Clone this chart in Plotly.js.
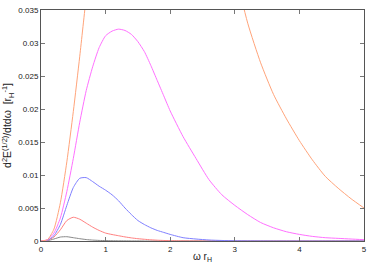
<!DOCTYPE html>
<html>
<head>
<meta charset="utf-8">
<script src="https://cdn.plot.ly/plotly-3.0.1.min.js"></script>
<style>html,body{margin:0;padding:0;background:#fff;}#plot{width:376px;height:263px;}</style>
</head>
<body>
<div id="plot"></div>
<script>
var omega = [0,0.1,0.2,0.3,0.4,0.5,0.6,0.7,0.8,0.9,1.0,1.1,1.2,1.3,1.4,1.5,1.6,1.7,1.8,1.9,2.0,2.2,2.4,2.6,2.8,3.0,3.2,3.4,3.6,3.8,4.0,4.2,4.4,4.6,4.8,5.0];
var seriesGray = [0,0.00005,0.0003,0.0006,0.00065,0.0005,0.00035,0.00022,0.00014,0.00009,0.00006,0.00004,0.00003,0.00002,0.00001,0.00001,0,0,0,0,0,0,0,0,0,0,0,0,0,0,0,0,0,0,0,0];
var seriesRed = [0,0.0001,0.0006,0.0017,0.0031,0.0036,0.0033,0.0027,0.0021,0.0016,0.0012,0.00098,0.0008,0.00062,0.00047,0.00035,0.00026,0.00018,0.00012,0.00008,0.00005,0.00002,0.00001,0,0,0,0,0,0,0,0,0,0,0,0,0];
var seriesBlue = [0,0.0001,0.0008,0.0025,0.0054,0.0081,0.0095,0.0096,0.0090,0.0083,0.0077,0.0070,0.0061,0.0050,0.0040,0.0031,0.0025,0.0020,0.0016,0.0013,0.0010,0.0005,0.0003,0.00015,0.00008,0.00004,0.00002,0.00001,0,0,0,0,0,0,0,0];
var seriesMagenta = [0,0.0002,0.0012,0.0035,0.0075,0.0125,0.0180,0.0228,0.0264,0.0293,0.0311,0.0318,0.0321,0.0319,0.0313,0.0302,0.0287,0.0266,0.0243,0.0220,0.0197,0.0158,0.0125,0.0093,0.0070,0.0054,0.0040,0.0028,0.0020,0.0014,0.0010,0.0007,0.0005,0.0004,0.0003,0.0002];
var seriesOrange = [0,0.0002,0.0018,0.0058,0.0120,0.0196,0.0280,0.0370,0.046,0.054,0.062,0.068,0.074,0.078,0.082,0.084,0.086,0.0865,0.086,0.085,0.083,0.077,0.069,0.060,0.050,0.041,0.033,0.027,0.0222,0.0185,0.0152,0.0123,0.0098,0.0080,0.0064,0.0050];
var xTicks = [0,1,2,3,4,5];
var yTicks = [0,0.005,0.01,0.015,0.02,0.025,0.03,0.035];
var yTickText = ['0','0.005','0.01','0.015','0.02','0.025','0.03','0.035'];

function tr(y, color) {
  return {x: omega, y: y, mode: 'lines', line: {color: color, width: 1, shape: 'spline', smoothing: 0.6}, hoverinfo: 'skip'};
}
var data = [
  tr(seriesGray, '#888888'),
  tr(seriesRed, '#ff7f7f'),
  tr(seriesBlue, '#7f7fff'),
  tr(seriesMagenta, '#ff70ff'),
  tr(seriesOrange, '#ffa47a')
];
var fnt = {family: 'Liberation Sans, Arial, sans-serif', size: 8, color: '#222'};
var layout = {
  width: 376, height: 263,
  margin: {l: 41, r: 12, t: 10, b: 22},
  paper_bgcolor: '#fff', plot_bgcolor: '#fff',
  showlegend: false,
  xaxis: {
    range: [0, 5], tickvals: xTicks, ticktext: xTicks.map(String),
    ticks: 'inside', ticklen: 4, tickcolor: '#777', mirror: 'ticks',
    showline: true, linecolor: '#555', linewidth: 1, showgrid: false, zeroline: false,
    tickfont: fnt,
    title: {text: 'ω r<sub>H</sub>', font: {family: 'Liberation Sans, Arial, sans-serif', size: 10, color: '#222'}, standoff: 2}
  },
  yaxis: {
    range: [0, 0.035], tickvals: yTicks, ticktext: yTickText,
    ticks: 'inside', ticklen: 4, tickcolor: '#777', mirror: 'ticks',
    showline: true, linecolor: '#555', linewidth: 1, showgrid: false, zeroline: false,
    tickfont: fnt,
    title: {text: 'd<sup>2</sup>E<sup>(1/2)</sup>/dtdω  [r<sub>H</sub><sup>-1</sup>]', font: {family: 'Liberation Sans, Arial, sans-serif', size: 10.5, color: '#222'}, standoff: 4}
  }
};
Plotly.newPlot('plot', data, layout, {staticPlot: true, displayModeBar: false});
</script>
</body>
</html>
